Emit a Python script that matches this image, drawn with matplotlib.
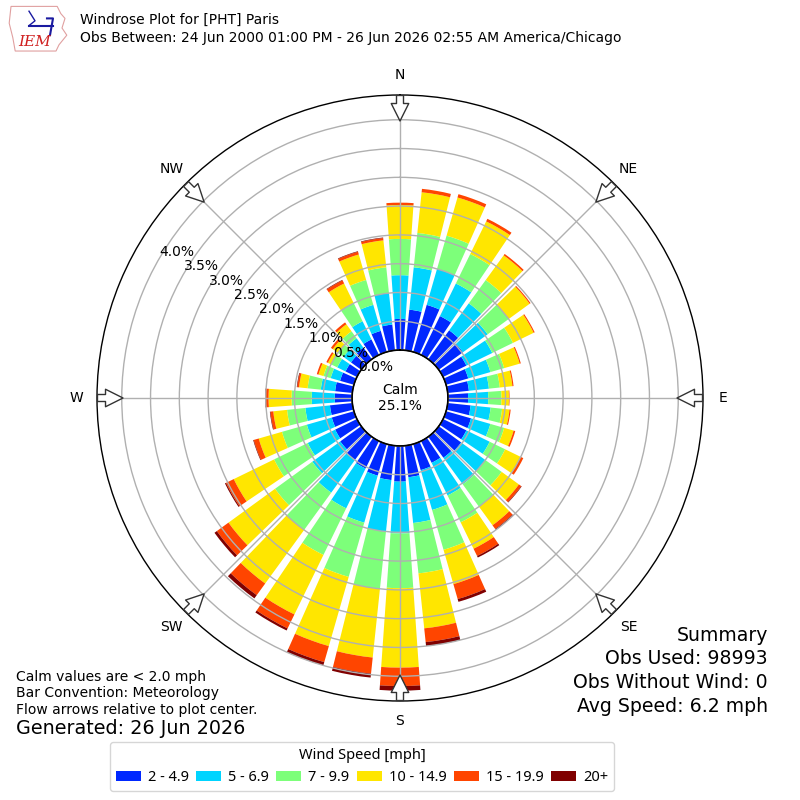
import numpy as np
import matplotlib
matplotlib.use("Agg")
import matplotlib.pyplot as plt
from matplotlib.patches import Patch, Polygon

# ---------------- data ----------------
directions = list(range(0, 360, 10))
speed_labels = ["2 - 4.9", "5 - 6.9", "7 - 9.9", "10 - 14.9", "15 - 19.9", "20+"]
speed_colors = ["#0028ff", "#00d4ff", "#7dff7a", "#ffe600", "#ff4500", "#800000"]

# percent of observations per direction, per speed bin
s_2_5 = [0.54, 0.71, 0.85, 0.75, 0.62, 0.52, 0.45, 0.40, 0.37, 0.35, 0.40, 0.45,
         0.45, 0.48, 0.45, 0.42, 0.47, 0.55, 0.62, 0.60, 0.57, 0.53, 0.50, 0.45,
         0.42, 0.40, 0.39, 0.30, 0.30, 0.25, 0.22, 0.22, 0.25, 0.30, 0.38, 0.45]
s_5_7 = [0.76, 0.74, 0.65, 0.63, 0.58, 0.53, 0.50, 0.40, 0.35, 0.35, 0.35, 0.35,
         0.45, 0.52, 0.57, 0.63, 0.72, 0.80, 0.90, 0.90, 0.85, 0.77, 0.70, 0.60,
         0.53, 0.45, 0.43, 0.40, 0.25, 0.17, 0.16, 0.16, 0.20, 0.35, 0.47, 0.55]
s_7_10 = [0.63, 0.60, 0.60, 0.57, 0.50, 0.45, 0.40, 0.25, 0.19, 0.23, 0.20, 0.25,
          0.30, 0.35, 0.48, 0.52, 0.72, 0.88, 0.95, 1.00, 0.98, 0.90, 0.80, 0.80,
          0.65, 0.45, 0.32, 0.35, 0.23, 0.13, 0.12, 0.12, 0.15, 0.35, 0.45, 0.45]
s_10_15 = [0.59, 0.71, 0.69, 0.63, 0.53, 0.45, 0.40, 0.28, 0.22, 0.13, 0.13, 0.17,
           0.30, 0.37, 0.40, 0.51, 0.62, 0.96, 1.38, 1.20, 1.25, 1.15, 1.15, 1.00,
           0.78, 0.42, 0.24, 0.40, 0.15, 0.09, 0.06, 0.11, 0.15, 0.38, 0.46, 0.47]
s_15_20 = [0.04, 0.06, 0.06, 0.05, 0.03, 0.02, 0.02, 0.02, 0.02, 0.01, 0.02, 0.03,
           0.05, 0.05, 0.08, 0.14, 0.27, 0.24, 0.32, 0.28, 0.29, 0.27, 0.25, 0.25,
           0.15, 0.09, 0.05, 0.05, 0.03, 0.03, 0.03, 0.04, 0.04, 0.06, 0.05, 0.04]
s_20p = [0.00, 0.00, 0.00, 0.00, 0.00, 0.00, 0.00, 0.00, 0.00, 0.00, 0.00, 0.00,
         0.00, 0.01, 0.02, 0.03, 0.05, 0.07, 0.08, 0.07, 0.06, 0.04, 0.07, 0.05,
         0.02, 0.01, 0.01, 0.01, 0.01, 0.00, 0.00, 0.00, 0.00, 0.01, 0.01, 0.01]
speed_bins = [s_2_5, s_5_7, s_7_10, s_10_15, s_15_20, s_20p]

ring_ticks = [0.0, 0.5, 1.0, 1.5, 2.0, 2.5, 3.0, 3.5, 4.0]
compass = ["N", "NE", "E", "SE", "S", "SW", "W", "NW"]
compass_deg = [0, 45, 90, 135, 180, 225, 270, 315]
calm_pct = 25.1

# ---------------- figure ----------------
fig = plt.figure(figsize=(8, 8), dpi=100)
ax = fig.add_axes([0.12125, 0.12375, 0.7575, 0.7575], projection="polar")
ax.set_theta_zero_location("N")
ax.set_theta_direction(-1)

rmax = 4.43
ax.set_ylim(0, rmax)
ax.set_rorigin(-0.833)

theta = np.deg2rad(directions)
width = np.deg2rad(10) * 0.8
bottom = np.zeros(len(directions))
for vals, col, lab in zip(speed_bins, speed_colors, speed_labels):
    v = np.array(vals)
    ax.bar(theta, v, width=width, bottom=bottom, color=col, edgecolor="none",
           align="center", label=lab, zorder=1)
    bottom = bottom + v

ax.set_xticks(np.deg2rad(compass_deg))
ax.set_xticklabels([])
ax.set_yticks(ring_ticks)
ax.set_yticklabels(["%.1f%%" % t for t in ring_ticks], fontsize=10)
ax.set_rlabel_position(300)
ax.grid(True, color="#b0b0b0", lw=1.0)
ax.set_axisbelow(False)
ax.spines["polar"].set_color("black")
ax.spines["polar"].set_linewidth(1.0)

# calm circle
tt = np.linspace(0, 2 * np.pi, 361)
ax.plot(tt, np.zeros_like(tt), color="black", lw=1.2, zorder=5, clip_on=False)
ax.text(0.5, 0.5, "Calm\n%.1f%%" % calm_pct, transform=ax.transAxes,
        ha="center", va="center", fontsize=10, zorder=6)

# compass labels and flow arrows
for lab, d in zip(compass, compass_deg):
    th = np.deg2rad(d)
    ax.text(th, rmax + 0.35, lab, ha="center", va="center", fontsize=10,
            clip_on=False)
    ax.annotate("", xy=(th, rmax - 0.50), xytext=(th, rmax + 0.04),
                arrowprops=dict(arrowstyle="simple,head_length=0.9,head_width=0.9,tail_width=0.36",
                                fc="white", ec="#333333", lw=1.0, mutation_scale=14),
                annotation_clip=False, zorder=7)

# ---------------- header ----------------
fig.text(0.1, 0.975, "Windrose Plot for [PHT] Paris", fontsize=10, va="center")
fig.text(0.1, 0.9525, "Obs Between: 24 Jun 2000 01:00 PM - 26 Jun 2026 02:55 AM America/Chicago",
         fontsize=10, va="center")

# simple logo
lax = fig.add_axes([0.01, 0.935, 0.075, 0.06])
lax.set_xlim(0, 1)
lax.set_ylim(0, 1)
lax.axis("off")
outline = [(0.05, 0.95), (0.82, 0.95), (0.88, 0.8), (0.95, 0.7), (0.9, 0.5),
           (0.98, 0.35), (0.85, 0.15), (0.8, 0.02), (0.12, 0.02), (0.08, 0.3),
           (0.02, 0.6)]
lax.add_patch(Polygon(outline, closed=True, fill=False, ec="#e0a0a0", lw=0.8))
lax.plot([0.35, 0.75], [0.55, 0.55], color="#1a1aa0", lw=1.5)
lax.plot([0.35, 0.45, 0.35], [0.85, 0.65, 0.55], color="#1a1aa0", lw=1.0)
lax.plot([0.65, 0.75, 0.7], [0.7, 0.7, 0.35], color="#1a1aa0", lw=1.5)
lax.text(0.45, 0.2, "IEM", color="#d02020", fontsize=11, fontstyle="italic",
         family="DejaVu Serif", ha="center", va="center")

# ---------------- footer ----------------
fig.text(0.02, 0.154, "Calm values are < 2.0 mph", fontsize=10, va="center")
fig.text(0.02, 0.134, "Bar Convention: Meteorology", fontsize=10, va="center")
fig.text(0.02, 0.1125, "Flow arrows relative to plot center.", fontsize=10, va="center")
fig.text(0.02, 0.089, "Generated: 26 Jun 2026", fontsize=13.8, va="center")

summary = ["Summary", "Obs Used: 98993", "Obs Without Wind: 0", "Avg Speed: 6.2 mph"]
for i, s in enumerate(summary):
    fig.text(0.96, 0.206 - i * 0.0295, s, fontsize=13.6, ha="right", va="center")

handles = [Patch(facecolor=c, edgecolor="none") for c in speed_colors]
fig.legend(handles, speed_labels, loc="upper center", bbox_to_anchor=(0.4525, 0.0725),
           ncol=6, title="Wind Speed [mph]", prop={"family": "Noto Sans", "size": 10.5},
           title_fontproperties={"family": "Noto Sans", "size": 10.5},
           handlelength=1.7, handleheight=0.7, handletextpad=0.5, columnspacing=0.5,
           borderaxespad=0.0, frameon=True, edgecolor="#cccccc")

fig.savefig("out.png", dpi=100)
